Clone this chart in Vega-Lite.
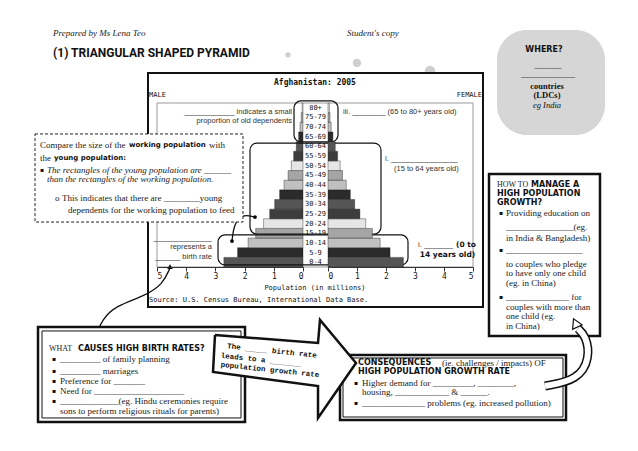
{
  "$schema": "https://vega.github.io/schema/vega-lite/v6.json",
  "width": 316,
  "height": 164,
  "autosize": {"type": "none"},
  "padding": {"left": 157, "top": 103, "right": 165, "bottom": 184},
  "background": "white",
  "config": {"view": {"stroke": null}, "text": {"baseline": "middle"}},
  "data": {"values": [
    {"age": "0-4", "i": 0, "male": 2.71, "female": 2.60},
    {"age": "5-9", "i": 1, "male": 2.24, "female": 2.14},
    {"age": "10-14", "i": 2, "male": 1.88, "female": 1.80},
    {"age": "15-19", "i": 3, "male": 1.62, "female": 1.53},
    {"age": "20-24", "i": 4, "male": 1.35, "female": 1.30},
    {"age": "25-29", "i": 5, "male": 1.14, "female": 1.10},
    {"age": "30-34", "i": 6, "male": 0.97, "female": 0.92},
    {"age": "35-39", "i": 7, "male": 0.80, "female": 0.77},
    {"age": "40-44", "i": 8, "male": 0.65, "female": 0.63},
    {"age": "45-49", "i": 9, "male": 0.51, "female": 0.50},
    {"age": "50-54", "i": 10, "male": 0.40, "female": 0.42},
    {"age": "55-59", "i": 11, "male": 0.32, "female": 0.33},
    {"age": "60-64", "i": 12, "male": 0.23, "female": 0.25},
    {"age": "65-69", "i": 13, "male": 0.15, "female": 0.17},
    {"age": "70-74", "i": 14, "male": 0.10, "female": 0.11},
    {"age": "75-79", "i": 15, "male": 0.06, "female": 0.07},
    {"age": "80+", "i": 16, "male": 0.03, "female": 0.05}
  ]},
  "resolve": {"scale": {"x": "independent"}, "axis": {"x": "independent"}},
  "layer": [
    {
      "layer": [
        {
          "data": {"values": [{"m": 0.514, "a": 21.48, "b": 1}, {"m": -1.849, "a": 20.65, "b": 2}, {"m": -4.349, "a": 19.82, "b": 3}]},
          "mark": {"type": "circle", "color": "#cfcfcf", "opacity": 1},
          "encoding": {
            "x": {"field": "m", "type": "quantitative", "scale": {"domain": [0, 5], "range": [146, 0], "nice": false, "zero": false}},
            "y": {"field": "a", "type": "quantitative", "scale": {"domain": [-0.5, 16.5], "nice": false, "zero": false, "padding": 0}, "axis": null},
            "size": {"field": "b", "type": "ordinal", "scale": {"domain": [1, 2, 3], "range": [28, 110, 200]}, "legend": null}
          }
        },
        {
          "data": {"values": [{"m1": -6.644, "m2": -10.342, "a1": 24.07, "a2": 13.18}]},
          "mark": {"type": "rect", "fill": "#d6d6d6", "cornerRadius": 30},
          "encoding": {
            "x": {"field": "m1", "type": "quantitative", "scale": {"domain": [0, 5], "range": [146, 0], "nice": false, "zero": false}},
            "x2": {"field": "m2"},
            "y": {"field": "a1", "type": "quantitative", "scale": {"domain": [-0.5, 16.5], "nice": false, "zero": false, "padding": 0}, "axis": null},
            "y2": {"field": "a2"}
          }
        },
        {
          "data": {"values": [{"m1": 5.308, "m2": -6.164, "a1": 19.61, "a2": -4.646}]},
          "mark": {"type": "rect", "fill": "white", "stroke": "#111", "strokeWidth": 2},
          "encoding": {
            "x": {"field": "m1", "type": "quantitative", "scale": {"domain": [0, 5], "range": [146, 0], "nice": false, "zero": false}},
            "x2": {"field": "m2"},
            "y": {"field": "a1", "type": "quantitative", "scale": {"domain": [-0.5, 16.5], "nice": false, "zero": false, "padding": 0}, "axis": null},
            "y2": {"field": "a2"}
          }
        },
        {
          "data": {"values": [{"m1": 5, "m2": -5.822, "a1": 16.5, "a2": -0.5}]},
          "mark": {"type": "rect", "fill": null, "fillOpacity": 0, "stroke": "#999", "strokeWidth": 1},
          "encoding": {
            "x": {"field": "m1", "type": "quantitative", "scale": {"domain": [0, 5], "range": [146, 0], "nice": false, "zero": false}},
            "x2": {"field": "m2"},
            "y": {"field": "a1", "type": "quantitative", "scale": {"domain": [-0.5, 16.5], "nice": false, "zero": false, "padding": 0}, "axis": null},
            "y2": {"field": "a2"}
          }
        },
        {
          "mark": {"type": "bar", "size": 9.6, "stroke": "#222", "strokeWidth": 0.4},
          "encoding": {
            "x": {"field": "male", "type": "quantitative", "scale": {"domain": [0, 5], "range": [146, 0], "nice": false, "zero": false},
                  "axis": {"orient": "bottom", "zindex": 2, "values": [0, 1, 2, 3, 4, 5], "format": "d", "title": null, "grid": false, "labelFont": "DejaVu Sans Mono", "labelFontSize": 8, "labelColor": "#111", "tickSize": 4, "tickColor": "#333", "domainColor": "#333", "labelPadding": 1}},
            "x2": {"datum": 0},
            "y": {"field": "i", "type": "quantitative", "scale": {"domain": [-0.5, 16.5], "nice": false, "zero": false, "padding": 0}, "axis": null},
            "color": {"field": "age", "type": "nominal", "legend": null, "scale": {
              "domain": ["0-4", "5-9", "10-14", "15-19", "20-24", "25-29", "30-34", "35-39", "40-44", "45-49", "50-54", "55-59", "60-64", "65-69", "70-74", "75-79", "80+"],
              "range": ["#555555", "#2b2b2b", "#c0c0c0", "#a5a5a5", "#e6e6e6", "#3d3d3d", "#555555", "#2b2b2b", "#c0c0c0", "#a5a5a5", "#e6e6e6", "#3d3d3d", "#555555", "#2b2b2b", "#c0c0c0", "#a5a5a5", "#e6e6e6"]}}
          }
        },
        {
          "mark": {"type": "text", "align": "center", "font": "DejaVu Sans Mono", "fontSize": 7, "color": "#111"},
          "encoding": {
            "x": {"datum": -0.428, "type": "quantitative", "scale": {"domain": [0, 5], "range": [146, 0], "nice": false, "zero": false}},
            "y": {"field": "i", "type": "quantitative", "scale": {"domain": [-0.5, 16.5], "nice": false, "zero": false, "padding": 0}, "axis": null},
            "text": {"field": "age"}
          }
        },
        {
          "data": {"values": [{"t": "Afghanistan: 2005", "m": -0.41, "a": 18.57}]},
          "mark": {"type": "text", "align": "center", "font": "DejaVu Sans Mono", "fontWeight": "bold", "fontSize": 8, "color": "#111"},
          "encoding": {
            "x": {"field": "m", "type": "quantitative", "scale": {"domain": [0, 5], "range": [146, 0], "nice": false, "zero": false}},
            "y": {"field": "a", "type": "quantitative", "scale": {"domain": [-0.5, 16.5], "nice": false, "zero": false, "padding": 0}, "axis": null},
            "text": {"field": "t"}
          }
        },
        {
          "data": {"values": [{"t": "MALE", "m": 5.274, "a": 17.33}, {"t": "Source: U.S. Census Bureau, International Data Base.", "m": 5.274, "a": -3.92}]},
          "mark": {"type": "text", "align": "left", "font": "DejaVu Sans Mono", "fontSize": 7, "color": "#111"},
          "encoding": {
            "x": {"field": "m", "type": "quantitative", "scale": {"domain": [0, 5], "range": [146, 0], "nice": false, "zero": false}},
            "y": {"field": "a", "type": "quantitative", "scale": {"domain": [-0.5, 16.5], "nice": false, "zero": false, "padding": 0}, "axis": null},
            "text": {"field": "t"}
          }
        },
        {
          "data": {"values": [{"t": "FEMALE", "m": -6.13, "a": 17.33}]},
          "mark": {"type": "text", "align": "right", "font": "DejaVu Sans Mono", "fontSize": 7, "color": "#111"},
          "encoding": {
            "x": {"field": "m", "type": "quantitative", "scale": {"domain": [0, 5], "range": [146, 0], "nice": false, "zero": false}},
            "y": {"field": "a", "type": "quantitative", "scale": {"domain": [-0.5, 16.5], "nice": false, "zero": false, "padding": 0}, "axis": null},
            "text": {"field": "t"}
          }
        },
        {
          "data": {"values": [{"t": "Population (in millions)", "m": -0.41, "a": -2.68}]},
          "mark": {"type": "text", "align": "center", "font": "DejaVu Sans Mono", "fontSize": 7, "color": "#111"},
          "encoding": {
            "x": {"field": "m", "type": "quantitative", "scale": {"domain": [0, 5], "range": [146, 0], "nice": false, "zero": false}},
            "y": {"field": "a", "type": "quantitative", "scale": {"domain": [-0.5, 16.5], "nice": false, "zero": false, "padding": 0}, "axis": null},
            "text": {"field": "t"}
          }
        },
        {
          "data": {"values": [
            {"t": "____________ indicates a small", "m": 0.377, "a": 15.57},
            {"t": "proportion of old dependents", "m": 0.377, "a": 14.63},
            {"t": "______________", "m": 3.12, "a": 2.51},
            {"t": "represents a", "m": 3.12, "a": 1.57},
            {"t": "______ birth rate", "m": 3.12, "a": 0.54}
          ]},
          "mark": {"type": "text", "align": "right", "font": "Liberation Sans", "fontSize": 7.5, "color": "#333"},
          "encoding": {
            "x": {"field": "m", "type": "quantitative", "scale": {"domain": [0, 5], "range": [146, 0], "nice": false, "zero": false}},
            "y": {"field": "a", "type": "quantitative", "scale": {"domain": [-0.5, 16.5], "nice": false, "zero": false, "padding": 0}, "axis": null},
            "text": {"field": "t"}
          }
        },
        {
          "data": {"values": [
            {"t": "iii. ________ (65 to 80+ years old)", "m": -1.37, "a": 15.57},
            {"t": "i. ________________", "m": -2.81, "a": 10.70},
            {"t": "(15 to 64 years old)", "m": -3.12, "a": 9.66},
            {"t": "i. _______", "m": -3.94, "a": 1.78}
          ]},
          "mark": {"type": "text", "align": "left", "font": "Liberation Sans", "fontSize": 7.5, "color": "#333"},
          "encoding": {
            "x": {"field": "m", "type": "quantitative", "scale": {"domain": [0, 5], "range": [146, 0], "nice": false, "zero": false}},
            "y": {"field": "a", "type": "quantitative", "scale": {"domain": [-0.5, 16.5], "nice": false, "zero": false, "padding": 0}, "axis": null},
            "text": {"field": "t"}
          }
        },
        {
          "data": {"values": [
            {"t": "(0 to", "m": -5.24, "a": 1.78},
            {"t": "14 years old)", "m": -4.0, "a": 0.74}
          ]},
          "mark": {"type": "text", "align": "left", "font": "DejaVu Sans", "fontWeight": "bold", "fontSize": 7.5, "color": "#111"},
          "encoding": {
            "x": {"field": "m", "type": "quantitative", "scale": {"domain": [0, 5], "range": [146, 0], "nice": false, "zero": false}},
            "y": {"field": "a", "type": "quantitative", "scale": {"domain": [-0.5, 16.5], "nice": false, "zero": false, "padding": 0}, "axis": null},
            "text": {"field": "t"}
          }
        },
        {
          "data": {"values": [
            {"m1": 0.308, "m2": -1.199, "a1": 16.71, "a2": 12.46},
            {"m1": 1.815, "m2": -2.671, "a1": 12.35, "a2": 2.92},
            {"m1": 2.91, "m2": -3.596, "a1": 2.82, "a2": -0.29}
          ]},
          "mark": {"type": "rect", "fill": null, "fillOpacity": 0, "stroke": "#111", "strokeWidth": 1.2, "cornerRadius": 7},
          "encoding": {
            "x": {"field": "m1", "type": "quantitative", "scale": {"domain": [0, 5], "range": [146, 0], "nice": false, "zero": false}},
            "x2": {"field": "m2"},
            "y": {"field": "a1", "type": "quantitative", "scale": {"domain": [-0.5, 16.5], "nice": false, "zero": false, "padding": 0}, "axis": null},
            "y2": {"field": "a2"}
          }
        },
        {
          "data": {"values": [
            {"k": 1, "m": 2.432, "a": 2.19},
            {"k": 2, "m": 2.363, "a": 3.96},
            {"k": 3, "m": 2.089, "a": 4.99},
            {"k": 4, "m": 1.644, "a": 4.68}
          ]},
          "mark": {"type": "line", "interpolate": "basis", "stroke": "#111", "strokeWidth": 1.3},
          "encoding": {
            "x": {"field": "m", "type": "quantitative", "scale": {"domain": [0, 5], "range": [146, 0], "nice": false, "zero": false}},
            "y": {"field": "a", "type": "quantitative", "scale": {"domain": [-0.5, 16.5], "nice": false, "zero": false, "padding": 0}, "axis": null},
            "order": {"field": "k", "type": "quantitative"}
          }
        },
        {
          "data": {"values": [{"m": 1.644, "a": 4.68}, {"m": 2.432, "a": 2.19}]},
          "mark": {"type": "circle", "color": "#000", "size": 14, "opacity": 1},
          "encoding": {
            "x": {"field": "m", "type": "quantitative", "scale": {"domain": [0, 5], "range": [146, 0], "nice": false, "zero": false}},
            "y": {"field": "a", "type": "quantitative", "scale": {"domain": [-0.5, 16.5], "nice": false, "zero": false, "padding": 0}, "axis": null}
          }
        },
        {
          "data": {"values": [{"m1": 9.178, "m2": 2.055, "a1": 13.29, "a2": 4.16}]},
          "mark": {"type": "rect", "fill": "white", "stroke": "#222", "strokeWidth": 1, "strokeDash": [3, 2]},
          "encoding": {
            "x": {"field": "m1", "type": "quantitative", "scale": {"domain": [0, 5], "range": [146, 0], "nice": false, "zero": false}},
            "x2": {"field": "m2"},
            "y": {"field": "a1", "type": "quantitative", "scale": {"domain": [-0.5, 16.5], "nice": false, "zero": false, "padding": 0}, "axis": null},
            "y2": {"field": "a2"}
          }
        },
        {
          "data": {"values": [
            {"k": 1, "m": 4.555, "a": -0.60},
            {"k": 2, "m": 4.795, "a": -2.26},
            {"k": 3, "m": 5.411, "a": -3.51},
            {"k": 4, "m": 6.438, "a": -4.54},
            {"k": 5, "m": 6.884, "a": -5.99},
            {"k": 6, "m": 7.055, "a": -7.34}
          ]},
          "mark": {"type": "line", "interpolate": "basis", "stroke": "#111", "strokeWidth": 1.3},
          "encoding": {
            "x": {"field": "m", "type": "quantitative", "scale": {"domain": [0, 5], "range": [146, 0], "nice": false, "zero": false}},
            "y": {"field": "a", "type": "quantitative", "scale": {"domain": [-0.5, 16.5], "nice": false, "zero": false, "padding": 0}, "axis": null},
            "order": {"field": "k", "type": "quantitative"}
          }
        },
        {
          "data": {"values": [{"m": 4.555, "a": -0.45, "s": "triangle-up"}, {"m": 7.089, "a": -7.62, "s": "triangle-down"}]},
          "mark": {"type": "point", "filled": true, "color": "#000", "size": 30, "opacity": 1},
          "encoding": {
            "x": {"field": "m", "type": "quantitative", "scale": {"domain": [0, 5], "range": [146, 0], "nice": false, "zero": false}},
            "y": {"field": "a", "type": "quantitative", "scale": {"domain": [-0.5, 16.5], "nice": false, "zero": false, "padding": 0}, "axis": null},
            "shape": {"field": "s", "type": "nominal", "scale": {"domain": ["triangle-up", "triangle-down"], "range": ["triangle-up", "triangle-down"]}, "legend": null}
          }
        },
        {
          "data": {"values": [
            {"m1": -6.370, "m2": -10.171, "a1": 9.14, "a2": -7.65},
            {"m1": 9.075, "m2": 1.986, "a1": -6.72, "a2": -16.57},
            {"m1": -1.267, "m2": -9.007, "a1": -9.62, "a2": -16.36}
          ]},
          "mark": {"type": "rect", "fill": "white", "stroke": "#111", "strokeWidth": 2.5},
          "encoding": {
            "x": {"field": "m1", "type": "quantitative", "scale": {"domain": [0, 5], "range": [146, 0], "nice": false, "zero": false}},
            "x2": {"field": "m2"},
            "y": {"field": "a1", "type": "quantitative", "scale": {"domain": [-0.5, 16.5], "nice": false, "zero": false, "padding": 0}, "axis": null},
            "y2": {"field": "a2"}
          }
        },
        {
          "data": {"values": [
            {"m1": 8.938, "m2": 2.123, "a1": -7.13, "a2": -16.15},
            {"m1": -1.370, "m2": -8.904, "a1": -9.93, "a2": -16.05}
          ]},
          "mark": {"type": "rect", "fill": null, "fillOpacity": 0, "stroke": "#111", "strokeWidth": 1},
          "encoding": {
            "x": {"field": "m1", "type": "quantitative", "scale": {"domain": [0, 5], "range": [146, 0], "nice": false, "zero": false}},
            "x2": {"field": "m2"},
            "y": {"field": "a1", "type": "quantitative", "scale": {"domain": [-0.5, 16.5], "nice": false, "zero": false, "padding": 0}, "axis": null},
            "y2": {"field": "a2"}
          }
        },
        {
          "data": {"values": [
            {"k": 1, "m": -8.288, "a": -12.84},
            {"k": 2, "m": -9.418, "a": -12.21},
            {"k": 3, "m": -9.829, "a": -9.93},
            {"k": 4, "m": -9.692, "a": -7.65},
            {"k": 5, "m": -9.418, "a": -6.90}
          ]},
          "mark": {"type": "line", "interpolate": "basis", "stroke": "#111", "strokeWidth": 9, "strokeCap": "butt"},
          "encoding": {
            "x": {"field": "m", "type": "quantitative", "scale": {"domain": [0, 5], "range": [146, 0], "nice": false, "zero": false}},
            "y": {"field": "a", "type": "quantitative", "scale": {"domain": [-0.5, 16.5], "nice": false, "zero": false, "padding": 0}, "axis": null},
            "order": {"field": "k", "type": "quantitative"}
          }
        },
        {
          "data": {"values": [
            {"k": 1, "m": -8.288, "a": -12.84},
            {"k": 2, "m": -9.418, "a": -12.21},
            {"k": 3, "m": -9.829, "a": -9.93},
            {"k": 4, "m": -9.692, "a": -7.65},
            {"k": 5, "m": -9.418, "a": -6.90}
          ]},
          "mark": {"type": "line", "interpolate": "basis", "stroke": "white", "strokeWidth": 6, "strokeCap": "butt"},
          "encoding": {
            "x": {"field": "m", "type": "quantitative", "scale": {"domain": [0, 5], "range": [146, 0], "nice": false, "zero": false}},
            "y": {"field": "a", "type": "quantitative", "scale": {"domain": [-0.5, 16.5], "nice": false, "zero": false, "padding": 0}, "axis": null},
            "order": {"field": "k", "type": "quantitative"}
          }
        },
        {
          "data": {"values": [{"m": -9.33, "a": -6.3}]},
          "mark": {"type": "point", "shape": "triangle-up", "filled": true, "fill": "white", "stroke": "#111", "strokeWidth": 1.2, "size": 110, "angle": -25, "opacity": 1},
          "encoding": {
            "x": {"field": "m", "type": "quantitative", "scale": {"domain": [0, 5], "range": [146, 0], "nice": false, "zero": false}},
            "y": {"field": "a", "type": "quantitative", "scale": {"domain": [-0.5, 16.5], "nice": false, "zero": false, "padding": 0}, "axis": null}
          }
        },
        {
          "data": {"values": [
            {"k": 1, "m": 3.014, "a": -7.55},
            {"k": 2, "m": -0.514, "a": -8.38},
            {"k": 3, "m": -0.582, "a": -5.99},
            {"k": 4, "m": -1.815, "a": -10.45},
            {"k": 5, "m": -0.514, "a": -16.15},
            {"k": 6, "m": -0.514, "a": -12.84},
            {"k": 7, "m": 3.082, "a": -11.38},
            {"k": 8, "m": 3.014, "a": -7.55}
          ]},
          "mark": {"type": "line", "fill": "white", "stroke": "#111", "strokeWidth": 2.5, "strokeJoin": "miter"},
          "encoding": {
            "x": {"field": "m", "type": "quantitative", "scale": {"domain": [0, 5], "range": [146, 0], "nice": false, "zero": false}},
            "y": {"field": "a", "type": "quantitative", "scale": {"domain": [-0.5, 16.5], "nice": false, "zero": false, "padding": 0}, "axis": null},
            "order": {"field": "k", "type": "quantitative"}
          }
        },
        {
          "data": {"values": [
            {"t": "The _____ birth rate", "m": 1.062, "a": -9.21},
            {"t": "leads to a _______", "m": 1.438, "a": -10.14},
            {"t": "population growth rate", "m": 1.130, "a": -11.18}
          ]},
          "mark": {"type": "text", "align": "center", "font": "Liberation Mono", "fontWeight": "bold", "fontSize": 7.5, "color": "#111", "angle": 6},
          "encoding": {
            "x": {"field": "m", "type": "quantitative", "scale": {"domain": [0, 5], "range": [146, 0], "nice": false, "zero": false}},
            "y": {"field": "a", "type": "quantitative", "scale": {"domain": [-0.5, 16.5], "nice": false, "zero": false, "padding": 0}, "axis": null},
            "text": {"field": "t"}
          }
        },
        {
          "data": {"values": [
            {"t": "Compare the size of the", "m": 9.007, "a": 12.15},
            {"t": "with", "m": 3.219, "a": 12.15},
            {"t": "the", "m": 9.007, "a": 10.80},
            {"t": "o", "m": 8.493, "a": 6.65},
            {"t": "This indicates that there are ________young", "m": 8.253, "a": 6.65},
            {"t": "dependents for the working population to feed", "m": 8.048, "a": 5.41},
            {"t": "Providing education on", "m": -6.952, "a": 5.10},
            {"t": "_______________(eg.", "m": -6.952, "a": 3.65},
            {"t": "in India & Bangladesh)", "m": -6.952, "a": 2.51},
            {"t": "_________________", "m": -6.952, "a": 1.26},
            {"t": "to couples who pledge", "m": -6.952, "a": -0.19},
            {"t": "to have only one child", "m": -6.952, "a": -1.12},
            {"t": "(eg. in China)", "m": -6.952, "a": -2.16},
            {"t": "______________ for", "m": -6.952, "a": -3.61},
            {"t": "couples with more than", "m": -6.952, "a": -4.65},
            {"t": "one child (eg.", "m": -6.952, "a": -5.58},
            {"t": "in China)", "m": -6.952, "a": -6.62},
            {"t": "_________ of family planning", "m": 8.322, "a": -10.07},
            {"t": "_________ marriages", "m": 8.322, "a": -11.25},
            {"t": "Preference for _______", "m": 8.322, "a": -12.29},
            {"t": "Need for ____________________", "m": 8.322, "a": -13.35},
            {"t": "_____________(eg. Hindu ceremonies require", "m": 8.322, "a": -14.39},
            {"t": "sons to perform religious rituals for parents)", "m": 8.322, "a": -15.40},
            {"t": "(ie. challenges / impacts) OF", "m": -4.760, "a": -10.45},
            {"t": "Higher demand for _________, ________,", "m": -2.021, "a": -12.52},
            {"t": "housing, ____________ & ______.", "m": -2.021, "a": -13.46},
            {"t": "______________ problems (eg. increased pollution)", "m": -2.021, "a": -14.60}
          ]},
          "mark": {"type": "text", "align": "left", "font": "Liberation Serif", "fontSize": 9, "color": "#222"},
          "encoding": {
            "x": {"field": "m", "type": "quantitative", "scale": {"domain": [0, 5], "range": [146, 0], "nice": false, "zero": false}},
            "y": {"field": "a", "type": "quantitative", "scale": {"domain": [-0.5, 16.5], "nice": false, "zero": false, "padding": 0}, "axis": null},
            "text": {"field": "t"}
          }
        },
        {
          "data": {"values": [
            {"t": "HOW TO", "m": -6.644, "a": 8.00},
            {"t": "WHAT", "m": 8.699, "a": -9.00}
          ]},
          "mark": {"type": "text", "align": "left", "font": "Liberation Serif", "fontSize": 8, "color": "#222"},
          "encoding": {
            "x": {"field": "m", "type": "quantitative", "scale": {"domain": [0, 5], "range": [146, 0], "nice": false, "zero": false}},
            "y": {"field": "a", "type": "quantitative", "scale": {"domain": [-0.5, 16.5], "nice": false, "zero": false, "padding": 0}, "axis": null},
            "text": {"field": "t"}
          }
        },
        {
          "data": {"values": [
            {"t": "Prepared by Ms Lena Teo", "m": 8.56, "a": 23.76},
            {"t": "Student's copy", "m": -1.507, "a": 23.76},
            {"t": "The rectangles of the young population are ______", "m": 8.767, "a": 9.55},
            {"t": "than the rectangles of the working population.", "m": 8.767, "a": 8.62}
          ]},
          "mark": {"type": "text", "align": "left", "font": "Liberation Serif", "fontStyle": "italic", "fontSize": 9, "color": "#222"},
          "encoding": {
            "x": {"field": "m", "type": "quantitative", "scale": {"domain": [0, 5], "range": [146, 0], "nice": false, "zero": false}},
            "y": {"field": "a", "type": "quantitative", "scale": {"domain": [-0.5, 16.5], "nice": false, "zero": false, "padding": 0}, "axis": null},
            "text": {"field": "t"}
          }
        },
        {
          "data": {"values": [
            {"m": 8.938, "a": 9.55}, {"m": -6.781, "a": 5.10}, {"m": -6.781, "a": 1.26}, {"m": -6.781, "a": -3.61},
            {"m": 8.527, "a": -10.07}, {"m": 8.527, "a": -11.25}, {"m": 8.527, "a": -12.29}, {"m": 8.527, "a": -13.35}, {"m": 8.527, "a": -14.39},
            {"m": -1.815, "a": -12.52}, {"m": -1.815, "a": -14.60}
          ]},
          "mark": {"type": "text", "align": "center", "font": "DejaVu Sans", "fontSize": 6, "color": "#111", "text": "▪"},
          "encoding": {
            "x": {"field": "m", "type": "quantitative", "scale": {"domain": [0, 5], "range": [146, 0], "nice": false, "zero": false}},
            "y": {"field": "a", "type": "quantitative", "scale": {"domain": [-0.5, 16.5], "nice": false, "zero": false, "padding": 0}, "axis": null}
          }
        },
        {
          "data": {"values": [
            {"t": "MANAGE A", "m": -7.81, "a": 8.00},
            {"t": "HIGH POPULATION", "m": -6.644, "a": 7.07},
            {"t": "GROWTH?", "m": -6.644, "a": 6.13},
            {"t": "CAUSES HIGH BIRTH RATES?", "m": 7.705, "a": -9.00},
            {"t": "CONSEQUENCES", "m": -1.884, "a": -10.45},
            {"t": "HIGH POPULATION GROWTH RATE", "m": -1.884, "a": -11.38}
          ]},
          "mark": {"type": "text", "align": "left", "font": "DejaVu Sans", "fontWeight": "bold", "fontSize": 8, "color": "#111"},
          "encoding": {
            "x": {"field": "m", "type": "quantitative", "scale": {"domain": [0, 5], "range": [146, 0], "nice": false, "zero": false}},
            "y": {"field": "a", "type": "quantitative", "scale": {"domain": [-0.5, 16.5], "nice": false, "zero": false, "padding": 0}, "axis": null},
            "text": {"field": "t"}
          }
        },
        {
          "data": {"values": [
            {"t": "working population", "m": 5.959, "a": 12.15},
            {"t": "young population:", "m": 8.527, "a": 10.80}
          ]},
          "mark": {"type": "text", "align": "left", "font": "DejaVu Sans", "fontWeight": "bold", "fontSize": 7, "color": "#111"},
          "encoding": {
            "x": {"field": "m", "type": "quantitative", "scale": {"domain": [0, 5], "range": [146, 0], "nice": false, "zero": false}},
            "y": {"field": "a", "type": "quantitative", "scale": {"domain": [-0.5, 16.5], "nice": false, "zero": false, "padding": 0}, "axis": null},
            "text": {"field": "t"}
          }
        },
        {
          "data": {"values": [
            {"t": "(1) TRIANGULAR SHAPED PYRAMID", "m": 8.56, "a": 21.68}
          ]},
          "mark": {"type": "text", "align": "left", "font": "Roboto", "fontWeight": "bold", "fontSize": 12, "color": "#111"},
          "encoding": {
            "x": {"field": "m", "type": "quantitative", "scale": {"domain": [0, 5], "range": [146, 0], "nice": false, "zero": false}},
            "y": {"field": "a", "type": "quantitative", "scale": {"domain": [-0.5, 16.5], "nice": false, "zero": false, "padding": 0}, "axis": null},
            "text": {"field": "t"}
          }
        },
        {
          "data": {"values": [
            {"t": "WHERE?", "m": -8.253, "a": 21.99}
          ]},
          "mark": {"type": "text", "align": "center", "font": "DejaVu Sans", "fontWeight": "bold", "fontSize": 8, "color": "#111"},
          "encoding": {
            "x": {"field": "m", "type": "quantitative", "scale": {"domain": [0, 5], "range": [146, 0], "nice": false, "zero": false}},
            "y": {"field": "a", "type": "quantitative", "scale": {"domain": [-0.5, 16.5], "nice": false, "zero": false, "padding": 0}, "axis": null},
            "text": {"field": "t"}
          }
        },
        {
          "data": {"values": [
            {"t": "______", "m": -8.39, "a": 20.44},
            {"t": "____________", "m": -8.39, "a": 19.51}
          ]},
          "mark": {"type": "text", "align": "center", "font": "Liberation Serif", "fontSize": 9, "color": "#111"},
          "encoding": {
            "x": {"field": "m", "type": "quantitative", "scale": {"domain": [0, 5], "range": [146, 0], "nice": false, "zero": false}},
            "y": {"field": "a", "type": "quantitative", "scale": {"domain": [-0.5, 16.5], "nice": false, "zero": false, "padding": 0}, "axis": null},
            "text": {"field": "t"}
          }
        },
        {
          "data": {"values": [
            {"t": "countries", "m": -8.356, "a": 18.31},
            {"t": "(LDCs)", "m": -8.356, "a": 17.36}
          ]},
          "mark": {"type": "text", "align": "center", "font": "Liberation Serif", "fontWeight": "bold", "fontSize": 8.5, "color": "#111"},
          "encoding": {
            "x": {"field": "m", "type": "quantitative", "scale": {"domain": [0, 5], "range": [146, 0], "nice": false, "zero": false}},
            "y": {"field": "a", "type": "quantitative", "scale": {"domain": [-0.5, 16.5], "nice": false, "zero": false, "padding": 0}, "axis": null},
            "text": {"field": "t"}
          }
        },
        {
          "data": {"values": [
            {"t": "eg India", "m": -8.356, "a": 16.32}
          ]},
          "mark": {"type": "text", "align": "center", "font": "Liberation Serif", "fontStyle": "italic", "fontSize": 8.5, "color": "#111"},
          "encoding": {
            "x": {"field": "m", "type": "quantitative", "scale": {"domain": [0, 5], "range": [146, 0], "nice": false, "zero": false}},
            "y": {"field": "a", "type": "quantitative", "scale": {"domain": [-0.5, 16.5], "nice": false, "zero": false, "padding": 0}, "axis": null},
            "text": {"field": "t"}
          }
        }
      ]
    },
    {
      "mark": {"type": "bar", "size": 9.6, "stroke": "#222", "strokeWidth": 0.4},
      "encoding": {
        "x": {"field": "female", "type": "quantitative", "scale": {"domain": [0, 5], "range": [171, 316], "nice": false, "zero": false},
              "axis": {"orient": "bottom", "zindex": 2, "values": [0, 1, 2, 3, 4, 5], "format": "d", "title": null, "grid": false, "labelFont": "DejaVu Sans Mono", "labelFontSize": 8, "labelColor": "#111", "tickSize": 4, "tickColor": "#333", "domainColor": "#333", "labelPadding": 1}},
        "x2": {"datum": 0},
        "y": {"field": "i", "type": "quantitative", "scale": {"domain": [-0.5, 16.5], "nice": false, "zero": false, "padding": 0}, "axis": null},
        "color": {"field": "age", "type": "nominal", "legend": null, "scale": {
          "domain": ["0-4", "5-9", "10-14", "15-19", "20-24", "25-29", "30-34", "35-39", "40-44", "45-49", "50-54", "55-59", "60-64", "65-69", "70-74", "75-79", "80+"],
          "range": ["#555555", "#2b2b2b", "#c0c0c0", "#a5a5a5", "#e6e6e6", "#3d3d3d", "#555555", "#2b2b2b", "#c0c0c0", "#a5a5a5", "#e6e6e6", "#3d3d3d", "#555555", "#2b2b2b", "#c0c0c0", "#a5a5a5", "#e6e6e6"]}}
      }
    }
  ]
}
